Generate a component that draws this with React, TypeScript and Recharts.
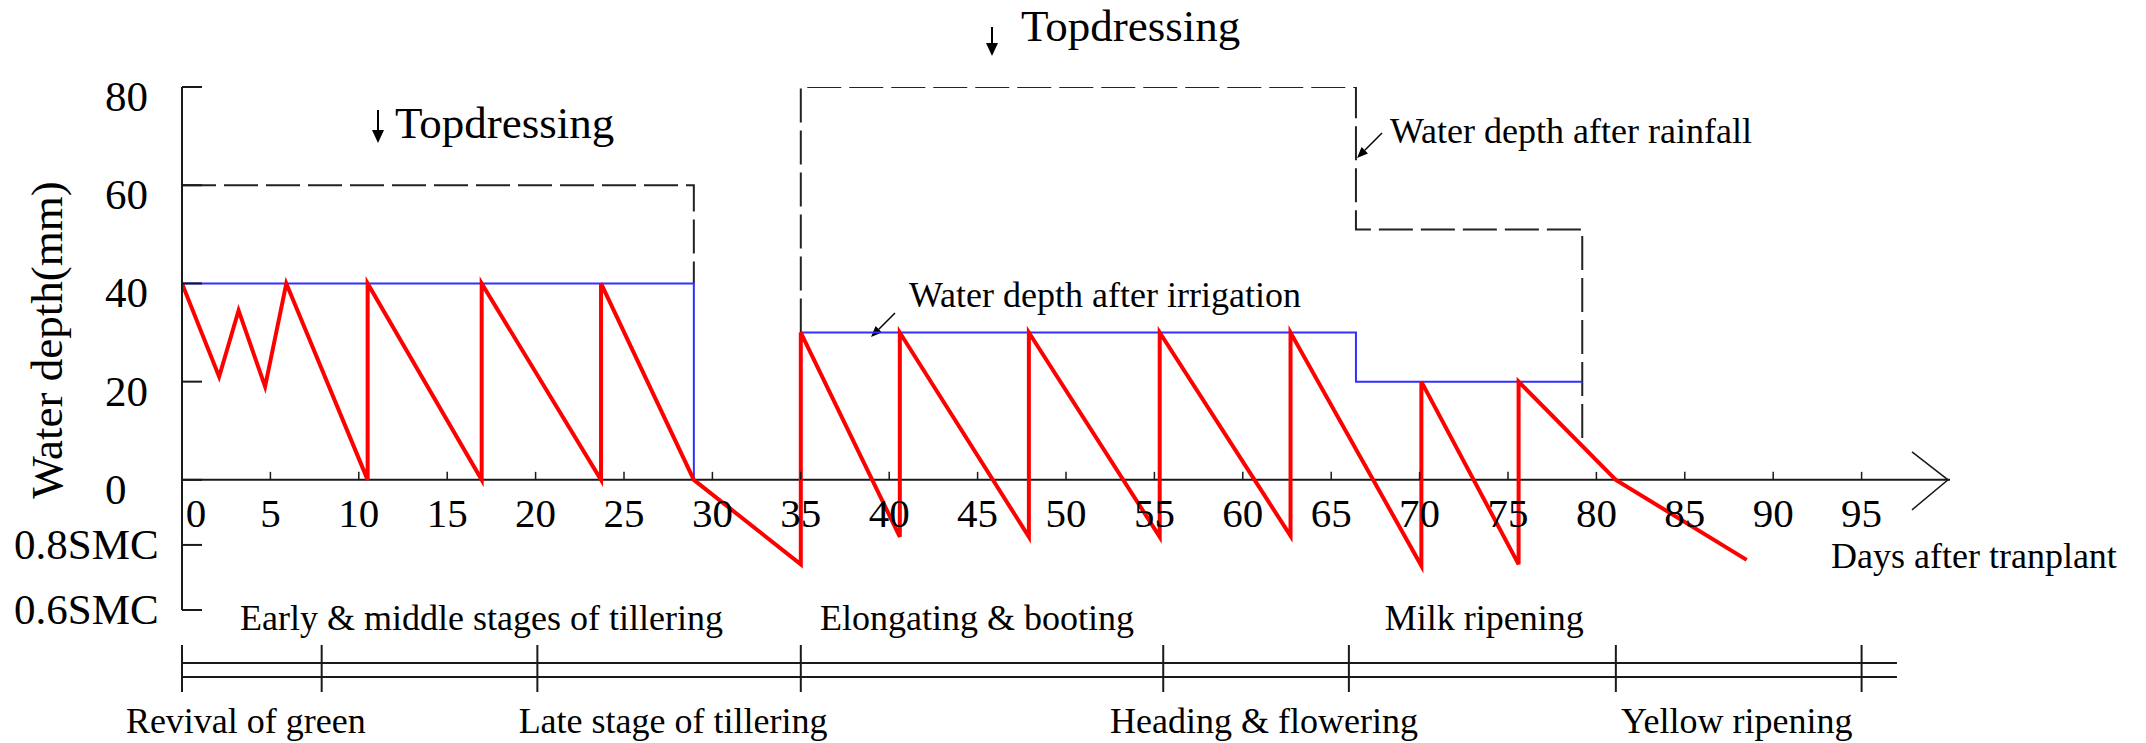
import React from "react";
import { LineChart, Line, XAxis, YAxis, ReferenceLine, Customized } from "recharts";

// x axis: days after transplanting
const DAY_TICKS = [0, 5, 10, 15, 20, 25, 30, 35, 40, 45, 50, 55, 60, 65, 70, 75, 80, 85, 90, 95];

// y axis: water depth in mm, soil moisture thresholds below zero
const DEPTH_TICKS = [-26.5, -13.25, 0, 20, 40, 60, 80];
const DEPTH_TICK_LABELS = ["0.6SMC", "0.8SMC", "0", "20", "40", "60", "80"];

// actual field water depth (red)
const ACTUAL_DAYS = [
  0, 2.1, 3.2, 4.7, 5.9, 10.5, 10.5, 16.95, 16.95, 23.7, 23.7, 28.95, 35, 35, 40.6, 40.6,
  47.9, 47.9, 55.3, 55.3, 62.7, 62.7, 70.1, 70.1, 75.6, 75.6, 81.1, 88.5,
];
const ACTUAL_DEPTH = [
  40, 21, 34.5, 19, 40, 0, 40, 0, 40, 0, 40, 0, -17.2, 30, -11.6, 30,
  -11.6, 30, -11.6, 30, -11.4, 30, -17.5, 20, -17.2, 20, 0, -16.3,
];

// upper limit after irrigation (blue)
const IRRIGATION_DAYS = [0, 28.95, 28.95, 32, 35, 66.4, 66.4, 79.2];
const IRRIGATION_DEPTH = [40, 40, 0, null, 30, 30, 20, 20];

// upper limit after rainfall (dashed)
const RAINFALL_DAYS = [0, 28.95, 28.95, 32, 35, 35, 66.4, 66.4, 79.2, 79.2];
const RAINFALL_DEPTH = [60, 60, 40, null, 30, 80, 80, 51, 51, 7.5];

// growth stages
const STAGE_BOUNDS = [0, 7.9, 20.1, 35, 55.5, 66, 81.1, 95];
const STAGE_NAMES = [
  "Revival of green",
  "Early & middle stages of tillering",
  "Late stage of tillering",
  "Elongating & booting",
  "Heading & flowering",
  "Milk ripening",
  "Yellow ripening",
];
const STAGE_NUDGE = [-6, 52, 4, -5, 8, 2, -2];

const toRows = (days: number[], vals: (number | null)[]) =>
  days.map((day, i) => ({ day, v: vals[i] }));

const actualData = toRows(ACTUAL_DAYS, ACTUAL_DEPTH);
const irrigationData = toRows(IRRIGATION_DAYS, IRRIGATION_DEPTH);
const rainfallData = toRows(RAINFALL_DAYS, RAINFALL_DEPTH);

const W = 2146;
const H = 743;
const PLOT_LEFT = 182;
const PLOT_RIGHT = 1950;
const PLOT_TOP = 87;
const PLOT_BOTTOM = 610;
const X_MAX = 100;
const Y_MIN = -26.5;
const Y_MAX = 80;
const YAXIS_W = 180;
const XAXIS_H = 30;
const FONT = "'Liberation Serif', 'Times New Roman', serif";
const INK = "#1a1a1a";

const dayX = (d: number) => PLOT_LEFT + (d / X_MAX) * (PLOT_RIGHT - PLOT_LEFT);
const depthY = (v: number) =>
  PLOT_TOP + ((Y_MAX - v) / (Y_MAX - Y_MIN)) * (PLOT_BOTTOM - PLOT_TOP);
const ZERO_Y = depthY(0);

function DepthTick(props: any) {
  const { y, payload } = props;
  const i = DEPTH_TICKS.indexOf(payload.value);
  const label = DEPTH_TICK_LABELS[i];
  const smc = payload.value < 0;
  return (
    <g>
      <line x1={PLOT_LEFT} x2={PLOT_LEFT + 20} y1={y} y2={y} stroke={INK} strokeWidth={2} />
      <text
        x={smc ? 14 : 105}
        y={y + (smc ? 14 : 24)}
        fontSize={43}
        fontFamily={FONT}
        fill="#000"
      >
        {label}
      </text>
    </g>
  );
}

function DayTick(props: any) {
  const { x, payload } = props;
  const d = payload.value;
  return (
    <g>
      {d > 0 && (
        <line x1={x} x2={x} y1={ZERO_Y} y2={ZERO_Y - 8} stroke={INK} strokeWidth={1.5} />
      )}
      <text
        x={x + (d === 0 ? 14 : 0)}
        y={ZERO_Y + 47}
        textAnchor="middle"
        fontSize={41}
        fontFamily={FONT}
        fill="#000"
      >
        {d}
      </text>
    </g>
  );
}

function Arrow({ x1, y1, x2, y2, head = 12, half = 5, width = 1.5 }: any) {
  const dx = x2 - x1;
  const dy = y2 - y1;
  const len = Math.hypot(dx, dy);
  const ux = dx / len;
  const uy = dy / len;
  const bx = x2 - ux * head;
  const by = y2 - uy * head;
  const pts = `${x2},${y2} ${bx - uy * half},${by + ux * half} ${bx + uy * half},${by - ux * half}`;
  return (
    <g>
      <line x1={x1} y1={y1} x2={bx} y2={by} stroke="#000" strokeWidth={width} />
      <polygon points={pts} fill="#000" />
    </g>
  );
}

function Overlay() {
  const tip = dayX(X_MAX) - 2;
  const barEnd = dayX(97);
  return (
    <g fontFamily={FONT} fill="#000">
      {/* x axis arrow head */}
      <polyline
        points={`${tip - 36},${ZERO_Y - 28} ${tip},${ZERO_Y} ${tip - 36},${ZERO_Y + 30}`}
        fill="none"
        stroke={INK}
        strokeWidth={1.5}
      />
      <text x={1831} y={568} fontSize={36}>
        Days after tranplant
      </text>

      {/* y axis title */}
      <text x={62} y={340} fontSize={45} textAnchor="middle" transform="rotate(-90 62 340)">
        Water depth(mm)
      </text>

      {/* topdressing marks */}
      <Arrow x1={378} y1={110} x2={378} y2={143} head={13} half={6} width={2} />
      <text x={395} y={138} fontSize={45}>
        Topdressing
      </text>
      <Arrow x1={992} y1={27} x2={992} y2={56} head={13} half={6} width={2} />
      <text x={1021} y={41} fontSize={45}>
        Topdressing
      </text>

      {/* series annotations */}
      <Arrow x1={895} y1={313} x2={871} y2={337} head={11} half={4.5} />
      <text x={909} y={307} fontSize={36}>
        Water depth after irrigation
      </text>
      <Arrow x1={1382} y1={133} x2={1357} y2={158} head={11} half={4.5} />
      <text x={1390} y={143} fontSize={36}>
        Water depth after rainfall
      </text>

      {/* growth stage bar */}
      <line x1={PLOT_LEFT} x2={barEnd} y1={663} y2={663} stroke={INK} strokeWidth={2} />
      <line x1={PLOT_LEFT} x2={barEnd} y1={677} y2={677} stroke={INK} strokeWidth={2} />
      {STAGE_BOUNDS.map((d) => (
        <line key={d} x1={dayX(d)} x2={dayX(d)} y1={645} y2={692} stroke={INK} strokeWidth={2} />
      ))}
      {STAGE_NAMES.map((name, i) => {
        const mid = (dayX(STAGE_BOUNDS[i]) + dayX(STAGE_BOUNDS[i + 1])) / 2 + STAGE_NUDGE[i];
        const upper = i % 2 === 1;
        return (
          <text key={name} x={mid} y={upper ? 630 : 733} fontSize={36} textAnchor="middle">
            {name}
          </text>
        );
      })}
    </g>
  );
}

export default function App() {
  return (
    <div style={{ position: "absolute", left: 0, top: 0, width: W, height: H, background: "#fff" }}>
      <LineChart
        width={W}
        height={H}
        margin={{
          top: PLOT_TOP,
          right: W - PLOT_RIGHT,
          bottom: H - PLOT_BOTTOM - XAXIS_H,
          left: PLOT_LEFT - YAXIS_W,
        }}
      >
        <XAxis
          dataKey="day"
          type="number"
          domain={[0, X_MAX]}
          ticks={DAY_TICKS}
          interval={0}
          height={XAXIS_H}
          axisLine={false}
          tickLine={false}
          tick={<DayTick />}
          allowDataOverflow
        />
        <YAxis
          type="number"
          domain={[Y_MIN, Y_MAX]}
          ticks={DEPTH_TICKS}
          interval={0}
          width={YAXIS_W}
          axisLine={{ stroke: INK, strokeWidth: 2 }}
          tickLine={false}
          tick={<DepthTick />}
          allowDataOverflow
        />
        <ReferenceLine y={0} stroke={INK} strokeWidth={2} />
        <Line
          data={rainfallData}
          dataKey="v"
          type="linear"
          stroke="#222"
          strokeWidth={2}
          strokeDasharray="34 8"
          dot={false}
          activeDot={false}
          connectNulls={false}
          isAnimationActive={false}
        />
        <Line
          data={irrigationData}
          dataKey="v"
          type="linear"
          stroke="#3030ff"
          strokeWidth={2}
          dot={false}
          activeDot={false}
          connectNulls={false}
          isAnimationActive={false}
        />
        <Line
          data={actualData}
          dataKey="v"
          type="linear"
          stroke="#ff0000"
          strokeWidth={4}
          dot={false}
          activeDot={false}
          isAnimationActive={false}
        />
        <Customized component={Overlay} />
      </LineChart>
    </div>
  );
}
